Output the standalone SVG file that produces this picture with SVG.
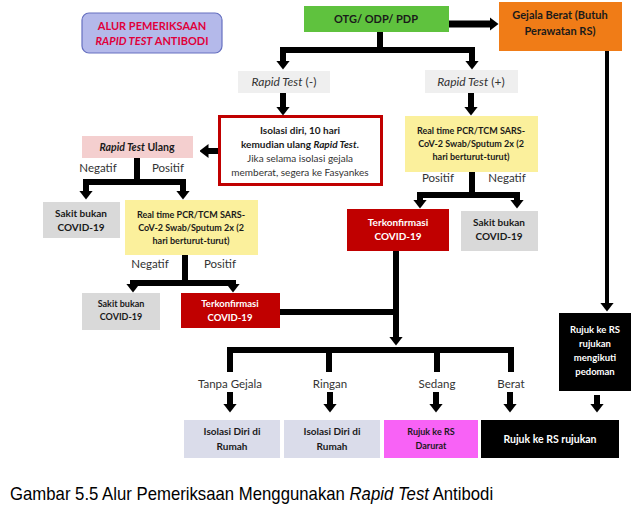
<svg xmlns="http://www.w3.org/2000/svg" width="639" height="518" viewBox="0 0 639 518">
<style>
text{font-family:Lato,"Open Sans","Liberation Sans",sans-serif;text-anchor:middle;fill:#1a1a1a}
.b{font-weight:bold}
.i{font-style:italic}
.w{fill:#ffffff}
.c{stroke:#000;stroke-width:6;fill:none}
.a{stroke:#000;stroke-width:6;fill:none;marker-end:url(#ah)}
.lbl{font-size:11.5px;fill:#333}
.rt{font-size:12px;fill:#333}
.y{font-size:9px;font-weight:bold}
</style>
<defs>
<marker id="ah" markerUnits="userSpaceOnUse" viewBox="0 0 9 14" markerWidth="9" markerHeight="14" refX="0.5" refY="7" orient="auto">
<path d="M0,0 L9,7 L0,14 z" fill="#000"/>
</marker>
</defs>
<rect width="639" height="518" fill="#ffffff"/>

<g id="title">
<rect x="82" y="13" width="140" height="40" rx="7" fill="#b4b9ea" stroke="#6670c0" stroke-width="1.2"/>
<text x="152" y="30" class="b" font-size="11" style="fill:#e0003a">ALUR PEMERIKSAAN</text>
<text x="152" y="45" class="b" font-size="11" style="fill:#e0003a"><tspan class="i">RAPID TEST</tspan> ANTIBODI</text>
</g>

<g id="start">
<rect x="304" y="6" width="145" height="26" fill="#5fc23e"/>
<text x="376" y="23" class="b" font-size="11">OTG/ ODP/ PDP</text>
</g>

<g id="gejala-berat">
<rect x="499" y="2" width="123" height="49" fill="#f07c17"/>
<text x="560" y="19" class="b" font-size="11">Gejala Berat (Butuh</text>
<text x="560" y="35" class="b" font-size="11">Perawatan RS)</text>
</g>

<g id="rt-neg">
<rect x="238" y="71" width="92" height="22" fill="#efefef"/>
<text x="284" y="86" class="rt"><tspan class="i">Rapid Test</tspan> (-)</text>
</g>

<g id="rt-pos">
<rect x="425" y="70" width="93" height="23" fill="#efefef"/>
<text x="471" y="86" class="rt"><tspan class="i">Rapid Test</tspan> (+)</text>
</g>

<g id="isolasi">
<rect x="219.5" y="116.5" width="162" height="68" fill="#ffffff" stroke="#c00000" stroke-width="3"/>
<text x="300" y="134" class="b" font-size="10">Isolasi diri, 10 hari</text>
<text x="300" y="148" class="b" font-size="10">kemudian ulang <tspan class="i">Rapid Test</tspan>.</text>
<text x="300" y="162" font-size="10" style="fill:#333">Jika selama isolasi gejala</text>
<text x="300" y="176" font-size="10" style="fill:#333">memberat, segera ke Fasyankes</text>
</g>

<g id="rt-ulang">
<rect x="82" y="136" width="111" height="22" fill="#f4cfcf"/>
<text x="137" y="151" class="b" font-size="10.5"><tspan class="i">Rapid Test</tspan> Ulang</text>
</g>

<g id="sakit-1">
<rect x="43" y="202" width="77" height="36" fill="#d9d9d9"/>
<text x="81" y="217" class="b" font-size="10">Sakit bukan</text>
<text x="81" y="231" class="b" font-size="10">COVID-19</text>
</g>

<g id="pcr-left">
<rect x="125" y="200" width="133" height="55" fill="#fbf09c"/>
<text x="191" y="218" class="y">Real time PCR/TCM SARS-</text>
<text x="191" y="231" class="y">CoV-2 Swab/Sputum 2x (2</text>
<text x="191" y="244" class="y">hari berturut-turut)</text>
</g>

<g id="sakit-2">
<rect x="82" y="293" width="78" height="37" fill="#d9d9d9"/>
<text x="121" y="307" class="y">Sakit bukan</text>
<text x="121" y="320" class="y">COVID-19</text>
</g>

<g id="konfirm-left">
<rect x="181" y="293" width="99" height="35" fill="#c00000"/>
<text x="230" y="307" class="b w" font-size="9.5">Terkonfirmasi</text>
<text x="230" y="321" class="b w" font-size="9.5">COVID-19</text>
</g>

<g id="pcr-right">
<rect x="405" y="116" width="133" height="56" fill="#fbf09c"/>
<text x="471" y="134" class="y">Real time PCR/TCM SARS-</text>
<text x="471" y="147" class="y">CoV-2 Swab/Sputum 2x (2</text>
<text x="471" y="160" class="y">hari berturut-turut)</text>
</g>

<g id="konfirm-right">
<rect x="347" y="209" width="102" height="42" fill="#c00000"/>
<text x="398" y="226" class="b w" font-size="10">Terkonfirmasi</text>
<text x="398" y="240" class="b w" font-size="10">COVID-19</text>
</g>

<g id="sakit-3">
<rect x="461" y="211" width="77" height="40" fill="#d9d9d9"/>
<text x="499" y="226" class="b" font-size="10">Sakit bukan</text>
<text x="499" y="240" class="b" font-size="10">COVID-19</text>
</g>

<g id="rujuk-pedoman">
<rect x="559" y="313" width="72" height="78" fill="#000000"/>
<text x="595" y="333" class="b w" font-size="9.5">Rujuk ke RS</text>
<text x="595" y="347" class="b w" font-size="9.5">rujukan</text>
<text x="595" y="361" class="b w" font-size="9.5">mengikuti</text>
<text x="595" y="375" class="b w" font-size="9.5">pedoman</text>
</g>

<g id="labels">
<text x="98" y="172" class="lbl">Negatif</text>
<text x="168" y="172" class="lbl">Positif</text>
<text x="150" y="268" class="lbl">Negatif</text>
<text x="220" y="268" class="lbl">Positif</text>
<text x="438" y="182" class="lbl">Positif</text>
<text x="507" y="182" class="lbl">Negatif</text>
<text x="230" y="388" class="lbl">Tanpa Gejala</text>
<text x="330" y="388" class="lbl">Ringan</text>
<text x="437" y="388" class="lbl">Sedang</text>
<text x="511" y="388" class="lbl">Berat</text>
</g>

<g id="isolasi-rumah-1">
<rect x="184" y="420" width="96" height="38" fill="#dadcea"/>
<text x="232" y="435" class="b" font-size="10">Isolasi Diri di</text>
<text x="232" y="450" class="b" font-size="10">Rumah</text>
</g>

<g id="isolasi-rumah-2">
<rect x="284" y="420" width="96" height="38" fill="#dadcea"/>
<text x="332" y="435" class="b" font-size="10">Isolasi Diri di</text>
<text x="332" y="450" class="b" font-size="10">Rumah</text>
</g>

<g id="rs-darurat">
<rect x="384" y="420" width="94" height="38" fill="#f862f6"/>
<text x="431" y="435" class="y">Rujuk ke RS</text>
<text x="431" y="449" class="y">Darurat</text>
</g>

<g id="rs-rujukan">
<rect x="481" y="420" width="138" height="38" fill="#000000"/>
<text x="550" y="443" class="b w" font-size="10.5">Rujuk ke RS rujukan</text>
</g>

<g id="connectors">
<line x1="449" y1="24" x2="490" y2="24" class="a" style="stroke-width:7"/>
<line x1="380" y1="32" x2="380" y2="50" class="c"/>
<line x1="280" y1="50" x2="475" y2="50" class="c"/>
<line x1="283" y1="47" x2="283" y2="61" class="a"/>
<line x1="472" y1="47" x2="472" y2="61" class="a"/>
<line x1="283" y1="93" x2="283" y2="107" class="a"/>
<line x1="471" y1="93" x2="471" y2="107" class="a"/>
<line x1="218" y1="151" x2="208" y2="151" class="a"/>
<line x1="137" y1="158" x2="137" y2="182" class="c"/>
<line x1="83" y1="182" x2="186" y2="182" class="c"/>
<line x1="86" y1="179" x2="86" y2="191" class="a"/>
<line x1="183" y1="179" x2="183" y2="191" class="a"/>
<line x1="185" y1="255" x2="185" y2="283" class="c"/>
<line x1="130" y1="283" x2="236" y2="283" class="c"/>
<line x1="133" y1="280" x2="133" y2="284" class="a"/>
<line x1="233" y1="280" x2="233" y2="284" class="a"/>
<line x1="472" y1="172" x2="472" y2="195" class="c"/>
<line x1="417" y1="195" x2="520" y2="195" class="c"/>
<line x1="420" y1="192" x2="420" y2="200" class="a"/>
<line x1="517" y1="192" x2="517" y2="200" class="a"/>
<line x1="280" y1="312" x2="396" y2="312" class="c"/>
<line x1="396" y1="251" x2="396" y2="337" class="a"/>
<line x1="227" y1="350" x2="514" y2="350" class="c"/>
<line x1="230" y1="347" x2="230" y2="372" class="c"/>
<line x1="329" y1="347" x2="329" y2="372" class="c"/>
<line x1="437" y1="347" x2="437" y2="372" class="c"/>
<line x1="511" y1="347" x2="511" y2="372" class="c"/>
<line x1="230" y1="392" x2="230" y2="404" class="a"/>
<line x1="330" y1="392" x2="330" y2="404" class="a"/>
<line x1="436" y1="392" x2="436" y2="404" class="a"/>
<line x1="510" y1="392" x2="510" y2="404" class="a"/>
<line x1="597" y1="395" x2="597" y2="404" class="a"/>
<line x1="607" y1="51" x2="607" y2="303" class="a" style="stroke-width:4"/>
</g>

<text transform="translate(10,500) scale(0.93,1)" x="0" y="0" font-size="18" style="text-anchor:start;font-family:'Liberation Sans',Arial,sans-serif;fill:#000">Gambar 5.5 Alur Pemeriksaan Menggunakan <tspan font-style="italic">Rapid Test</tspan> Antibodi</text>
</svg>
